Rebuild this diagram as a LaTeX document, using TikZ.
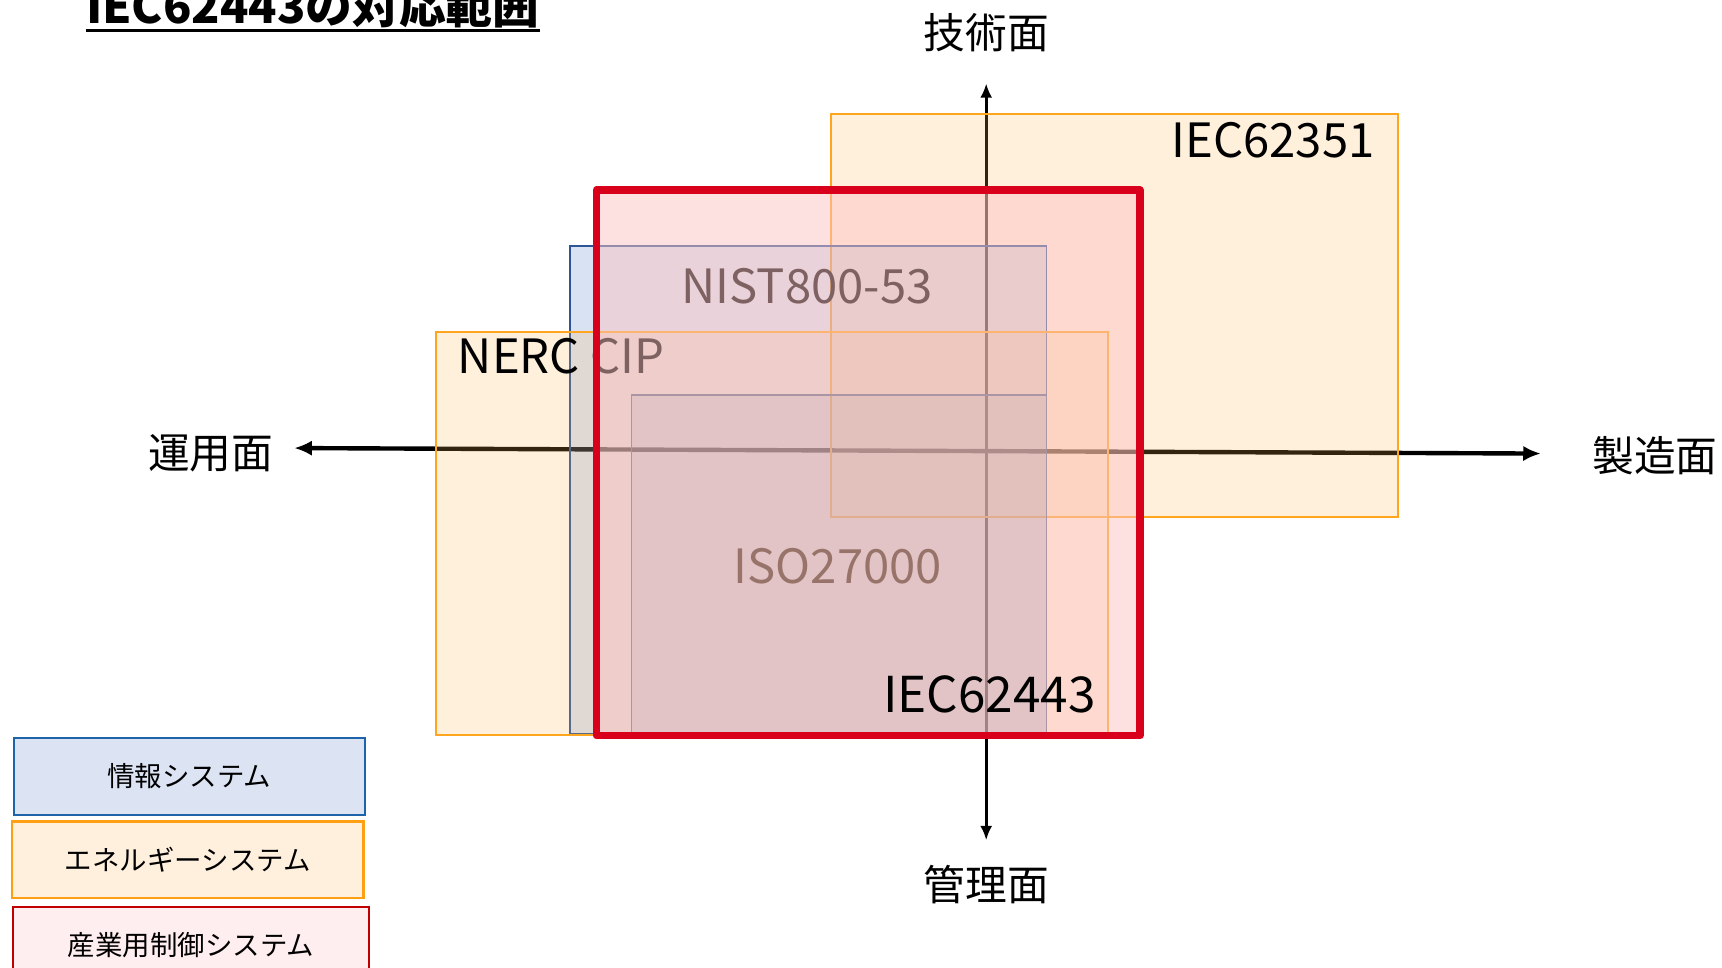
\documentclass[tikz,border=0pt]{standalone}
\usepackage{fontspec}
\setmainfont{Noto Sans CJK JP}
\usetikzlibrary{arrows.meta}
\definecolor{redline}{RGB}{217,0,27}
\definecolor{redfill}{RGB}{252,195,195}
\definecolor{orline}{RGB}{255,165,30}
\definecolor{orfill}{RGB}{255,180,80}
\definecolor{blline}{RGB}{47,85,151}
\definecolor{blfill}{RGB}{68,114,196}
\definecolor{legblue}{RGB}{220,228,244}
\definecolor{legbluel}{RGB}{30,100,170}
\definecolor{legor}{RGB}{255,240,222}
\definecolor{legorl}{RGB}{255,160,20}
\definecolor{legred}{RGB}{255,238,240}
\definecolor{legredl}{RGB}{192,0,0}
\tikzset{
  obox/.style={fill=orfill, fill opacity=0.2, draw=orline, draw opacity=1, line width=0.8pt},
  bbox/.style={fill=blfill, fill opacity=0.2, draw=blline, draw opacity=1, line width=0.8pt},
  rbox/.style={fill=redfill, fill opacity=0.5, draw=redline, draw opacity=1, line width=3.3pt, line join=round},
  lab/.style={inner sep=0pt, font=\fontsize{21.5}{24}\selectfont, text=black},
  axlab/.style={inner sep=0pt, font=\fontsize{19}{22}\selectfont, text=black},
  legend/.style={inner sep=0pt, line width=1pt, minimum width=160pt, minimum height=35pt, font=\fontsize{12.5}{15}\selectfont, text=black},
}
\begin{document}
\begin{tikzpicture}[x=0.5pt,y=-0.5pt]
\useasboundingbox (0,0) rectangle (1568,881);
\fill[white] (0,0) rectangle (1568,881);
% axes
\coordinate (hl) at (268,408);
\coordinate (hr) at (1403,413);
\coordinate (vt) at (898,76);
\coordinate (vb) at (898,765);
\draw[line width=2pt, {Latex[length=8pt,width=7pt]}-{Latex[length=8pt,width=7pt]}] (hl) -- (hr);
\draw[line width=1.2pt, {Latex[length=6.5pt,width=5.5pt]}-{Latex[length=6.5pt,width=5.5pt]}] (vb) -- (vt);
% IEC62351
\filldraw[obox] (757,104) rectangle (1273,471);
\node[lab, anchor=east] (t62351) at (1252,128) {IEC62351};
% NIST
\filldraw[bbox] (519,224) rectangle (953,668);
\node[lab] (tnist) at (735,261) {NIST800-53};
% ISO
\filldraw[bbox] (575,360) rectangle (953,668);
\node[lab] (tiso) at (763,516) {ISO27000};
% NERC
\filldraw[obox] (397,302) rectangle (1009,669);
\node[lab] (tnerc) at (511,324) {NERC CIP};
% IEC62443
\filldraw[rbox] (543,173) rectangle (1038,670);
\node[lab, font=\fontsize{22.5}{25}\selectfont] (t62443) at (901,632) {IEC62443};
% axis labels
\node[axlab] (top) at (898,30) {技術面};
\node[axlab] (bot) at (898,805) {管理面};
\node[axlab] (lft) at (192,413) {運用面};
\node[axlab] (rgt) at (1507,415) {製造面};
% title
\node[anchor=base west, inner sep=0pt, font=\bfseries\fontsize{21.3}{25}\selectfont] (title) at (78,21) {IEC62443の対応範囲};
\draw[line width=1.5pt] ([yshift=-3.3pt]title.base west) -- ([yshift=-3.3pt]title.base east);
% legend
\node[legend, fill=legblue, draw=legbluel] (leg1) at (172.5,707) {情報システム};
\node[legend, fill=legor, draw=legorl] (leg2) at (171,783) {エネルギーシステム};
\node[legend, fill=legred, draw=legredl, minimum width=162pt] (leg3) at (174,861) {産業用制御システム};
\end{tikzpicture}
\end{document}
